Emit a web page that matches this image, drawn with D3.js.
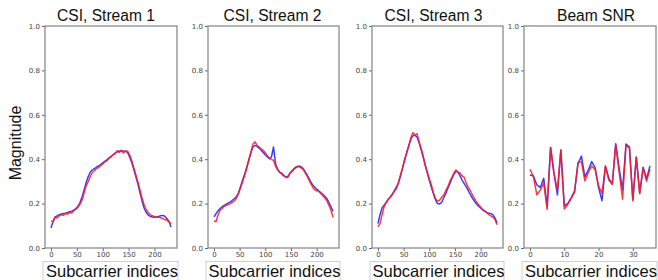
<!DOCTYPE html>
<html>
<head>
<meta charset="utf-8">
<script src="https://cdn.jsdelivr.net/npm/d3@7"></script>
<style>
    html, body { margin: 0; padding: 0; background: #fff; }
    svg { display: block; }
    .tick text { font-family: "DejaVu Sans", sans-serif; font-size: 7px; fill: #444; }
    .tick line { stroke: #666; }
</style>
</head>
<body>
<div id="chart"></div>
<script>
    // subcarrier indices (every 4th carrier)
    var csiIdx = [0, 4, 8, 12, 16, 20, 24, 28, 32, 36, 40, 44, 48, 52, 56, 60, 64, 68, 72, 76,
        80, 84, 88, 92, 96, 100, 104, 108, 112, 116, 120, 124, 128, 132, 136, 140, 144, 148, 152, 156,
        160, 164, 168, 172, 176, 180, 184, 188, 192, 196, 200, 204, 208, 212, 216, 220, 224, 228, 232];

    var s1Blue = [0.090, 0.120, 0.140, 0.145, 0.150, 0.153, 0.155, 0.157, 0.160, 0.163, 0.166, 0.170, 0.177, 0.188, 0.205, 0.230, 0.262, 0.295, 0.322, 0.342,
        0.352, 0.358, 0.364, 0.370, 0.376, 0.383, 0.390, 0.397, 0.405, 0.413, 0.420, 0.427, 0.433, 0.437, 0.438, 0.437, 0.436, 0.430, 0.410, 0.385,
        0.355, 0.322, 0.288, 0.250, 0.212, 0.180, 0.160, 0.148, 0.142, 0.140, 0.139, 0.140, 0.142, 0.145, 0.147, 0.143, 0.133, 0.120, 0.095];
    var s1Red = [0.122, 0.118, 0.140, 0.135, 0.145, 0.150, 0.147, 0.157, 0.152, 0.160, 0.158, 0.168, 0.175, 0.183, 0.196, 0.215, 0.248, 0.280, 0.300, 0.322,
        0.340, 0.348, 0.358, 0.362, 0.372, 0.378, 0.388, 0.393, 0.405, 0.410, 0.420, 0.425, 0.438, 0.430, 0.440, 0.428, 0.436, 0.437, 0.420, 0.395,
        0.362, 0.330, 0.298, 0.262, 0.225, 0.195, 0.172, 0.160, 0.150, 0.145, 0.142, 0.140, 0.138, 0.136, 0.133, 0.128, 0.125, 0.118, 0.110];

    var s2Blue = [0.140, 0.155, 0.168, 0.178, 0.186, 0.192, 0.198, 0.203, 0.208, 0.215, 0.222, 0.232, 0.250, 0.278, 0.308, 0.335, 0.365, 0.398, 0.430, 0.455,
        0.462, 0.458, 0.450, 0.440, 0.430, 0.420, 0.410, 0.402, 0.410, 0.455, 0.380, 0.355, 0.342, 0.333, 0.325, 0.320, 0.322, 0.335, 0.348, 0.358,
        0.365, 0.368, 0.368, 0.362, 0.350, 0.335, 0.318, 0.300, 0.285, 0.275, 0.265, 0.258, 0.250, 0.242, 0.233, 0.222, 0.205, 0.185, 0.165];
    var s2Red = [0.122, 0.118, 0.150, 0.170, 0.178, 0.188, 0.192, 0.196, 0.200, 0.206, 0.213, 0.225, 0.245, 0.272, 0.300, 0.328, 0.360, 0.395, 0.432, 0.468,
        0.478, 0.462, 0.455, 0.447, 0.440, 0.428, 0.415, 0.405, 0.398, 0.395, 0.368, 0.352, 0.340, 0.338, 0.328, 0.318, 0.318, 0.338, 0.345, 0.355,
        0.362, 0.368, 0.362, 0.358, 0.345, 0.330, 0.312, 0.292, 0.276, 0.262, 0.258, 0.255, 0.245, 0.235, 0.225, 0.212, 0.192, 0.170, 0.138];

    var s3Blue = [0.110, 0.150, 0.180, 0.193, 0.205, 0.218, 0.230, 0.243, 0.258, 0.275, 0.295, 0.325, 0.360, 0.395, 0.430, 0.462, 0.490, 0.505, 0.508, 0.500,
        0.475, 0.445, 0.410, 0.375, 0.340, 0.305, 0.275, 0.245, 0.218, 0.200, 0.198, 0.205, 0.225, 0.245, 0.268, 0.290, 0.312, 0.332, 0.345, 0.342,
        0.325, 0.305, 0.290, 0.275, 0.258, 0.240, 0.225, 0.210, 0.198, 0.188, 0.180, 0.172, 0.165, 0.160, 0.157, 0.155, 0.150, 0.135, 0.112];
    var s3Red = [0.095, 0.110, 0.150, 0.185, 0.205, 0.220, 0.228, 0.240, 0.255, 0.268, 0.292, 0.330, 0.362, 0.400, 0.428, 0.458, 0.495, 0.520, 0.508, 0.515,
        0.480, 0.448, 0.415, 0.372, 0.342, 0.312, 0.285, 0.248, 0.222, 0.212, 0.215, 0.228, 0.238, 0.258, 0.275, 0.300, 0.318, 0.338, 0.352, 0.340,
        0.338, 0.325, 0.318, 0.292, 0.272, 0.258, 0.240, 0.222, 0.208, 0.195, 0.185, 0.172, 0.168, 0.160, 0.150, 0.145, 0.138, 0.128, 0.105];

    // beam SNR, one value per beam subcarrier group
    var snrIdx = [0, 1, 2, 3, 4, 5, 6, 7, 8, 9, 10, 11, 12, 13, 14, 15, 16, 17, 18, 19,
        20, 21, 22, 23, 24, 25, 26, 27, 28, 29, 30, 31, 32, 33, 34, 35];
    var snrBlue = [0.329, 0.324, 0.284, 0.273, 0.314, 0.186, 0.453, 0.336, 0.239, 0.441, 0.190, 0.200, 0.226, 0.256, 0.380, 0.414, 0.320, 0.350, 0.389, 0.362,
        0.272, 0.213, 0.369, 0.314, 0.287, 0.470, 0.360, 0.262, 0.468, 0.455, 0.218, 0.410, 0.248, 0.364, 0.312, 0.370];
    var snrRed = [0.354, 0.321, 0.239, 0.261, 0.291, 0.174, 0.453, 0.336, 0.261, 0.441, 0.176, 0.196, 0.222, 0.252, 0.385, 0.389, 0.302, 0.340, 0.369, 0.352,
        0.280, 0.246, 0.369, 0.305, 0.287, 0.465, 0.340, 0.220, 0.462, 0.450, 0.212, 0.408, 0.244, 0.360, 0.300, 0.355];

    var yTicks = [0, 0.2, 0.4, 0.6, 0.8, 1.0];
    var csiTicks = [0, 50, 100, 150, 200];
    var snrTicks = [0, 10, 20, 30];

    var panels = [
        { title: 'CSI, Stream 1', x: csiIdx, blue: s1Blue, red: s1Red, ticks: csiTicks, left: 45, right: 177, titleX: 106 },
        { title: 'CSI, Stream 2', x: csiIdx, blue: s2Blue, red: s2Red, ticks: csiTicks, left: 208, right: 339, titleX: 272.5 },
        { title: 'CSI, Stream 3', x: csiIdx, blue: s3Blue, red: s3Red, ticks: csiTicks, left: 372, right: 503, titleX: 433.5 },
        { title: 'Beam SNR', x: snrIdx, blue: snrBlue, red: snrRed, ticks: snrTicks, left: 524, right: 656, titleX: 596 }
    ];

    var WIDTH = 658;
    var HEIGHT = 280;
    var TOP = 26;
    var BOTTOM = 248;

    var svg = d3.select('#chart').append('svg')
        .attr('width', WIDTH)
        .attr('height', HEIGHT);

    var y = d3.scaleLinear().domain([0, 1]).range([BOTTOM, TOP]);

    panels.forEach(function (p) {
        // matplotlib style 5% margin around the data
        var ext = d3.extent(p.x);
        var pad = (ext[1] - ext[0]) * 0.05;
        var x = d3.scaleLinear().domain([ext[0] - pad, ext[1] + pad]).range([p.left, p.right]);

        var g = svg.append('g');

        g.append('g')
            .attr('transform', `translate(${p.left},0)`)
            .call(d3.axisLeft(y).tickValues(yTicks).tickSize(3).tickPadding(2).tickFormat(d3.format('.1f')))
            .call(function (a) { a.select('.domain').remove(); });

        g.append('g')
            .attr('transform', `translate(0,${BOTTOM})`)
            .call(d3.axisBottom(x).tickValues(p.ticks).tickSize(3).tickPadding(1.5))
            .call(function (a) { a.select('.domain').remove(); });

        var line = d3.line()
            .x(function (d, i) { return x(p.x[i]); })
            .y(function (d) { return y(d); });

        g.append('path')
            .datum(p.blue)
            .attr('d', line)
            .attr('fill', 'none')
            .attr('stroke', '#1a1aff')
            .attr('stroke-opacity', 0.85)
            .attr('stroke-width', 1.5)
            .attr('stroke-linejoin', 'round');

        g.append('path')
            .datum(p.red)
            .attr('d', line)
            .attr('fill', 'none')
            .attr('stroke', '#ff1a1a')
            .attr('stroke-opacity', 0.85)
            .attr('stroke-width', 1.5)
            .attr('stroke-linejoin', 'round');

        // frame
        g.append('rect')
            .attr('x', p.left)
            .attr('y', TOP)
            .attr('width', p.right - p.left)
            .attr('height', BOTTOM - TOP)
            .attr('fill', 'none')
            .attr('stroke', '#8c8c8c')
            .attr('stroke-width', 1.3);

        g.append('text')
            .attr('x', p.titleX)
            .attr('y', 21)
            .attr('text-anchor', 'middle')
            .style('font-family', '"Liberation Sans", Arial, sans-serif')
            .style('font-size', '15.6px')
            .style('fill', '#111')
            .text(p.title);

        // boxed x label
        var cx = (p.left + p.right) / 2 + 1;
        g.append('rect')
            .attr('x', p.left - 2)
            .attr('y', 261.5)
            .attr('width', p.right - p.left + 3)
            .attr('height', 30)
            .attr('fill', '#fff')
            .attr('stroke', '#cfcfcf')
            .attr('stroke-width', 1);

        g.append('text')
            .attr('x', cx)
            .attr('y', 277)
            .attr('text-anchor', 'middle')
            .style('font-family', '"Liberation Sans", Arial, sans-serif')
            .style('font-size', '16.5px')
            .style('fill', '#111')
            .text('Subcarrier indices');
    });

    svg.append('text')
        .attr('transform', 'translate(20.5,143)rotate(-90)')
        .attr('text-anchor', 'middle')
        .style('font-family', '"Liberation Sans", Arial, sans-serif')
        .style('font-size', '16px')
        .style('fill', '#111')
        .text('Magnitude');
</script>
</body>
</html>
